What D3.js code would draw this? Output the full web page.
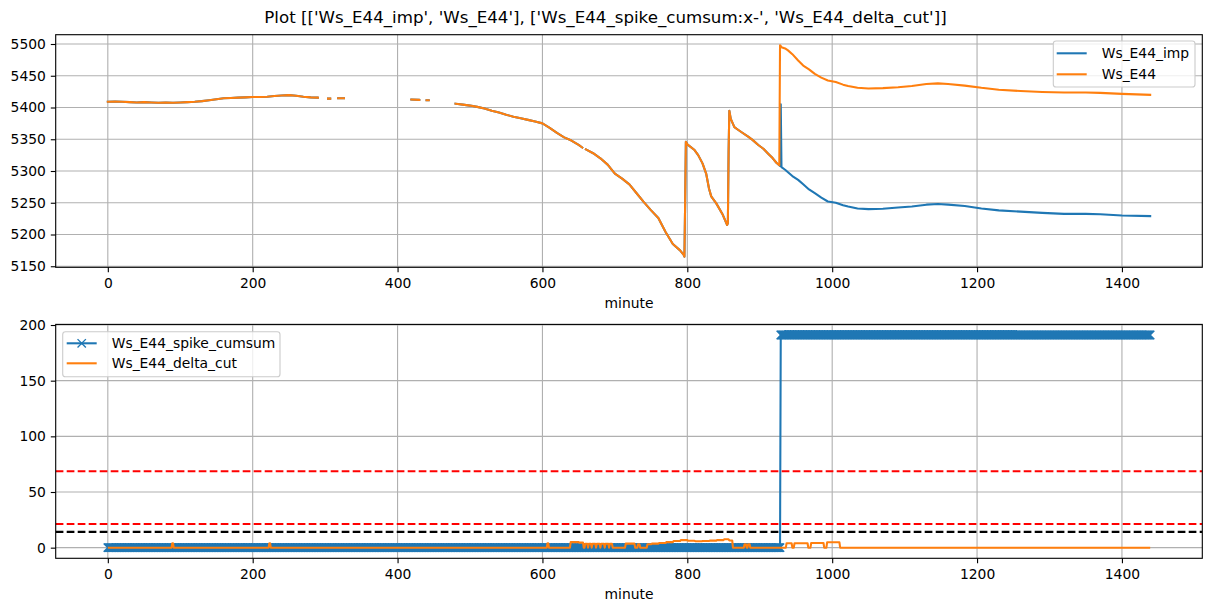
<!DOCTYPE html>
<html><head><meta charset="utf-8">
<script src="https://cdn.jsdelivr.net/npm/d3@7"></script>
<style>body{margin:0;background:#fff} svg{display:block} text{font-family:"DejaVu Sans",sans-serif;fill:#000}</style>
</head><body><svg id="c" width="1211" height="611"></svg>
<script>
// ---------------- DATA ----------------
const title = "Plot [['Ws_E44_imp', 'Ws_E44'], ['Ws_E44_spike_cumsum:x-', 'Ws_E44_delta_cut']]";
const xLabel = "minute";
const xTicks = [0, 200, 400, 600, 800, 1000, 1200, 1400];
const yTicksTop = [5150, 5200, 5250, 5300, 5350, 5400, 5450, 5500];
const yTicksBottom = [0, 50, 100, 150, 200];
const minuteRange = [0, 1439];

// [minute, value]; null marks a gap
const wsE44 = [
[0,5409],[10,5409.5],[20,5409],[30,5408.5],[40,5408],[50,5408.5],[60,5408],[70,5407.5],[80,5408],[90,5407.5],
[100,5408],[110,5408.5],[120,5409],[130,5410],[140,5411.5],[150,5413],[160,5414.5],[170,5415],[180,5415.5],[190,5416],
[200,5416.5],[210,5416.5],[220,5417],[230,5418],[240,5419],[250,5419.5],[260,5418.5],[270,5417],[280,5416],[290,5415.5],
[295,null],[304,5414],[307,5414],[310,null],[318,5414.5],[326,5414.5],[330,null],
[419,5412.5],[430,5412],[435,null],[440,5411.5],[443,5411.5],[450,null],
[480,5406],[490,5404.5],[500,5403],[510,5401],[520,5398.5],[530,5395],[540,5392],[550,5388.5],[560,5385.5],[570,5383],
[580,5380.5],[590,5378],[600,5375],[610,5368],[620,5360],[630,5353],[640,5348],[650,5341],[655,5337],[657,null],
[660,5334],[670,5328],[680,5320],[690,5310],[700,5296],[710,5288],[720,5279],[730,5265],[740,5251],[750,5238],
[760,5226],[770,5204],[780,5185],[790,5175],[795,5168],[796,5165],[797,5250],[798,5346],[800,5342],[810,5333],
[815,5325],[821,5312],[826,5296],[830,5272],[833,5260],[840,5249],[849,5231],[855,5215],[856,5218],[857,5330],
[858,5395],[860,5382],[865,5369],[870,5365],[875,5361],[884,5354],[890,5349],[898,5341],[905,5335],[911,5328],
[918,5320],[923,5313],[927,5309],[928,5498],[929,5497],[930,5495],[935,5493],[939,5490],[945,5484],[953,5474],
[960,5466],[968,5460],[976,5453],[985,5447],[994,5442.5],[1005,5440],[1015,5436],[1022,5434],[1035,5431],[1050,5430],
[1070,5430.5],[1091,5432],[1110,5434],[1130,5437],[1146,5438],[1160,5437],[1183,5434.5],[1206,5431],[1230,5428],[1260,5426],
[1290,5424.5],[1320,5423.5],[1350,5423.5],[1370,5423],[1400,5421.5],[1439,5420]
];
const wsE44Imp = [
[0,5409],[10,5409.5],[20,5409],[30,5408.5],[40,5408],[50,5408.5],[60,5408],[70,5407.5],[80,5408],[90,5407.5],
[100,5408],[110,5408.5],[120,5409],[130,5410],[140,5411.5],[150,5413],[160,5414.5],[170,5415],[180,5415.5],[190,5416],
[200,5416.5],[210,5416.5],[220,5417],[230,5418],[240,5419],[250,5419.5],[260,5418.5],[270,5417],[280,5416],[290,5415.5],
[295,null],[304,5414],[307,5414],[310,null],[318,5414.5],[326,5414.5],[330,null],
[419,5412.5],[430,5412],[435,null],[440,5411.5],[443,5411.5],[450,null],
[480,5406],[490,5404.5],[500,5403],[510,5401],[520,5398.5],[530,5395],[540,5392],[550,5388.5],[560,5385.5],[570,5383],
[580,5380.5],[590,5378],[600,5375],[610,5368],[620,5360],[630,5353],[640,5348],[650,5341],[655,5337],[657,null],
[660,5334],[670,5328],[680,5320],[690,5310],[700,5296],[710,5288],[720,5279],[730,5265],[740,5251],[750,5238],
[760,5226],[770,5204],[780,5185],[790,5175],[795,5168],[796,5165],[797,5250],[798,5346],[800,5342],[810,5333],
[815,5325],[821,5312],[826,5296],[830,5272],[833,5260],[840,5249],[849,5231],[855,5215],[856,5218],[857,5330],
[858,5395],[860,5382],[865,5369],[870,5365],[875,5361],[884,5354],[890,5349],[898,5341],[905,5335],[911,5328],
[918,5320],[923,5313],[927,5309],[928,5308],[929,5405],[930,5306],[935,5302],[939,5298],[945,5292],[953,5286],
[960,5279],[968,5271],[976,5265],[985,5258],[994,5252],[1005,5250],[1015,5246],[1022,5244],[1035,5241],[1050,5240],
[1070,5240.5],[1091,5242.5],[1110,5244],[1130,5247],[1146,5248],[1160,5247],[1183,5245],[1206,5241],[1230,5238],[1260,5236],
[1290,5234],[1320,5232.5],[1350,5232.5],[1370,5232],[1400,5230],[1439,5229]
];

// runs: [fromMinute, toMinute, value] (value constant over every minute of the run)
const spikeCumsumRuns = [[0, 928, 0], [929, 1439, 191]];
const deltaCutRuns = [
[0,88,0],[89,90,4],[91,222,0],[223,224,4],[225,606,0],[607,608,4],[609,638,0],
[639,650,5],[651,656,4.5],[657,658,0],
[659,662,3.5],[663,663,0],[664,667,3.5],[668,668,0],[669,673,3.5],[674,674,0],[675,679,3.5],[680,680,0],
[681,685,3.5],[686,686,0],[687,691,3.5],[692,692,0],[693,696,3.5],
[697,714,0],[715,727,3.6],[728,731,0],[732,734,3],[735,744,0],
[745,750,3],[751,760,3.6],[761,770,4.2],[771,780,5],[781,790,6],[791,800,6.8],[801,810,6.2],[811,820,5.8],
[821,830,6],[831,840,6.3],[841,850,6.8],[851,857,7.5],[858,862,6.5],[863,878,0],[879,881,3],[882,883,0],
[884,886,3],[887,936,0],
[937,944,4],[945,947,0],[948,966,4],[967,970,0],[971,988,4.2],[989,992,0],[993,1010,4.8],[1011,1439,0]
];
const thresholds = [68.6, 21.2, 14.2];
const topSeriesNames = ["Ws_E44_imp", "Ws_E44"];
const bottomSeriesNames = ["Ws_E44_spike_cumsum", "Ws_E44_delta_cut"];

// ---------------- STYLE / LAYOUT ----------------
const BLUE = "#1f77b4", ORANGE = "#ff7f0e";
const thresholdColors = ["#ff0000", "#ff0000", "#000000"];
const FS = 13.89, LW = 2.08, GRID = "#b0b0b0";
const L = 55.7, R = 1202.3;
const A1 = {top: 34.7, bottom: 267.3};
const A2 = {top: 324.4, bottom: 558.3};

const svg = d3.select("#c");

svg.append("text").attr("x", 605.5).attr("y", 22.5).attr("text-anchor", "middle")
  .style("font-size", "16.67px").text(title);

const pad = (minuteRange[1] - minuteRange[0]) * 0.05;
const x = d3.scaleLinear().domain([minuteRange[0] - pad, minuteRange[1] + pad]).range([L, R]);

function padded(ext) { const p = (ext[1] - ext[0]) * 0.05; return [ext[0] - p, ext[1] + p]; }

const topVals = wsE44.concat(wsE44Imp).map(d => d[1]).filter(v => v != null);
const y1 = d3.scaleLinear().domain(padded(d3.extent(topVals))).range([A1.bottom, A1.top]);

function expandRuns(runs) {
  const out = [];
  runs.forEach(([a, b, v]) => { for (let m = a; m <= b; m++) out.push([m, v]); });
  return out;
}
function runsToSteps(runs) {
  const out = [];
  runs.forEach(([a, b, v]) => { out.push([a, v]); if (b !== a) out.push([b, v]); });
  return out;
}
const cumsumPts = expandRuns(spikeCumsumRuns);
const deltaPts = runsToSteps(deltaCutRuns);
const bottomVals = cumsumPts.map(d => d[1]).concat(deltaPts.map(d => d[1]));
const y2 = d3.scaleLinear().domain(padded(d3.extent(bottomVals))).range([A2.bottom, A2.top]);

const defs = svg.append("defs");
[["clip1", A1], ["clip2", A2]].forEach(([id, a]) => {
  defs.append("clipPath").attr("id", id).append("rect")
    .attr("x", L).attr("y", a.top).attr("width", R - L).attr("height", a.bottom - a.top);
});

function frame(a, y, yTicks) {
  const g = svg.append("g");
  // grid
  g.selectAll(".gx").data(xTicks).enter().append("line")
    .attr("x1", d => x(d)).attr("x2", d => x(d)).attr("y1", a.top).attr("y2", a.bottom)
    .attr("stroke", GRID).attr("stroke-width", 1.11);
  g.selectAll(".gy").data(yTicks).enter().append("line")
    .attr("x1", L).attr("x2", R).attr("y1", d => y(d)).attr("y2", d => y(d))
    .attr("stroke", GRID).attr("stroke-width", 1.11);
  // axes
  const xa = svg.append("g").attr("transform", `translate(0,${a.bottom})`)
    .call(d3.axisBottom(x).tickValues(xTicks).tickSize(4.9).tickPadding(6.2).tickFormat(d3.format("d")));
  const ya = svg.append("g").attr("transform", `translate(${L},0)`)
    .call(d3.axisLeft(y).tickValues(yTicks).tickSize(4.9).tickPadding(4.9).tickFormat(d3.format("d")));
  [xa, ya].forEach(ax => {
    ax.select(".domain").remove();
    ax.selectAll("line").attr("stroke", "#000").attr("stroke-width", 1.11);
    ax.selectAll("text").style("font-size", FS + "px").style("font-family", "DejaVu Sans").attr("fill", "#000");
  });
  svg.append("text").attr("x", (L + R) / 2).attr("y", a.bottom + 41).attr("text-anchor", "middle")
    .style("font-size", FS + "px").text(xLabel);
  return g;
}
function spines(a) {
  svg.append("rect").attr("x", L).attr("y", a.top).attr("width", R - L).attr("height", a.bottom - a.top)
    .attr("fill", "none").attr("stroke", "#000").attr("stroke-width", 1.11);
}

// ---------- TOP PANEL ----------
frame(A1, y1, yTicksTop);
const p1 = svg.append("g").attr("clip-path", "url(#clip1)");
const line1 = d3.line().defined(d => d[1] != null).x(d => x(d[0])).y(d => y1(d[1]));
p1.append("path").datum(wsE44Imp).attr("d", line1).attr("fill", "none")
  .attr("stroke", BLUE).attr("stroke-width", LW).attr("stroke-linejoin", "round").attr("stroke-linecap", "square");
p1.append("path").datum(wsE44).attr("d", line1).attr("fill", "none")
  .attr("stroke", ORANGE).attr("stroke-width", LW).attr("stroke-linejoin", "round").attr("stroke-linecap", "square");
spines(A1);

// legend top
(function () {
  const g = svg.append("g");
  g.append("rect").attr("x", 1053.3).attr("y", 41).attr("width", 1195 - 1053.3).attr("height", 46)
    .attr("rx", 2.8).attr("fill", "#fff").attr("fill-opacity", 0.8).attr("stroke", "#cccccc").attr("stroke-width", 1.11);
  const cols = [BLUE, ORANGE];
  topSeriesNames.forEach((n, i) => {
    const yy = 53.3 + i * 21;
    g.append("line").attr("x1", 1056.7).attr("x2", 1086.7).attr("y1", yy).attr("y2", yy)
      .attr("stroke", cols[i]).attr("stroke-width", LW);
    g.append("text").attr("x", 1101.7).attr("y", yy + 5).style("font-size", FS + "px").text(n);
  });
})();

// ---------- BOTTOM PANEL ----------
frame(A2, y2, yTicksBottom);
const p2 = svg.append("g").attr("clip-path", "url(#clip2)");
const line2 = d3.line().x(d => x(d[0])).y(d => y2(d[1]));
p2.append("path").datum(cumsumPts).attr("d", line2).attr("fill", "none")
  .attr("stroke", BLUE).attr("stroke-width", LW);
const ms = 4.17;
const markerPath = cumsumPts.map(d => {
  const cx = x(d[0]), cy = y2(d[1]);
  return `M${cx - ms},${cy - ms}L${cx + ms},${cy + ms}M${cx - ms},${cy + ms}L${cx + ms},${cy - ms}`;
}).join("");
p2.append("path").attr("d", markerPath).attr("fill", "none").attr("stroke", BLUE).attr("stroke-width", 1.39);
p2.append("path").datum(deltaPts).attr("d", line2).attr("fill", "none")
  .attr("stroke", ORANGE).attr("stroke-width", LW).attr("stroke-linejoin", "round");
p2.selectAll(".th").data(thresholds).enter().append("line")
  .attr("x1", L).attr("x2", R).attr("y1", d => y2(d)).attr("y2", d => y2(d))
  .attr("stroke", (d, i) => thresholdColors[i]).attr("stroke-width", LW).attr("stroke-dasharray", "7.7,3.3");
spines(A2);

// legend bottom
(function () {
  const g = svg.append("g");
  g.append("rect").attr("x", 62.7).attr("y", 331.7).attr("width", 280 - 62.7).attr("height", 45)
    .attr("rx", 2.8).attr("fill", "#fff").attr("fill-opacity", 0.8).attr("stroke", "#cccccc").attr("stroke-width", 1.11);
  const cols = [BLUE, ORANGE];
  bottomSeriesNames.forEach((n, i) => {
    const yy = 343.3 + i * 20;
    g.append("line").attr("x1", 66.7).attr("x2", 96.7).attr("y1", yy).attr("y2", yy)
      .attr("stroke", cols[i]).attr("stroke-width", LW);
    if (i === 0) {
      const cx = 81.7;
      g.append("path").attr("d", `M${cx - ms},${yy - ms}L${cx + ms},${yy + ms}M${cx - ms},${yy + ms}L${cx + ms},${yy - ms}`)
        .attr("stroke", BLUE).attr("stroke-width", 1.39);
    }
    g.append("text").attr("x", 111.7).attr("y", yy + 5).style("font-size", FS + "px").text(n);
  });
})();
</script></body></html>
